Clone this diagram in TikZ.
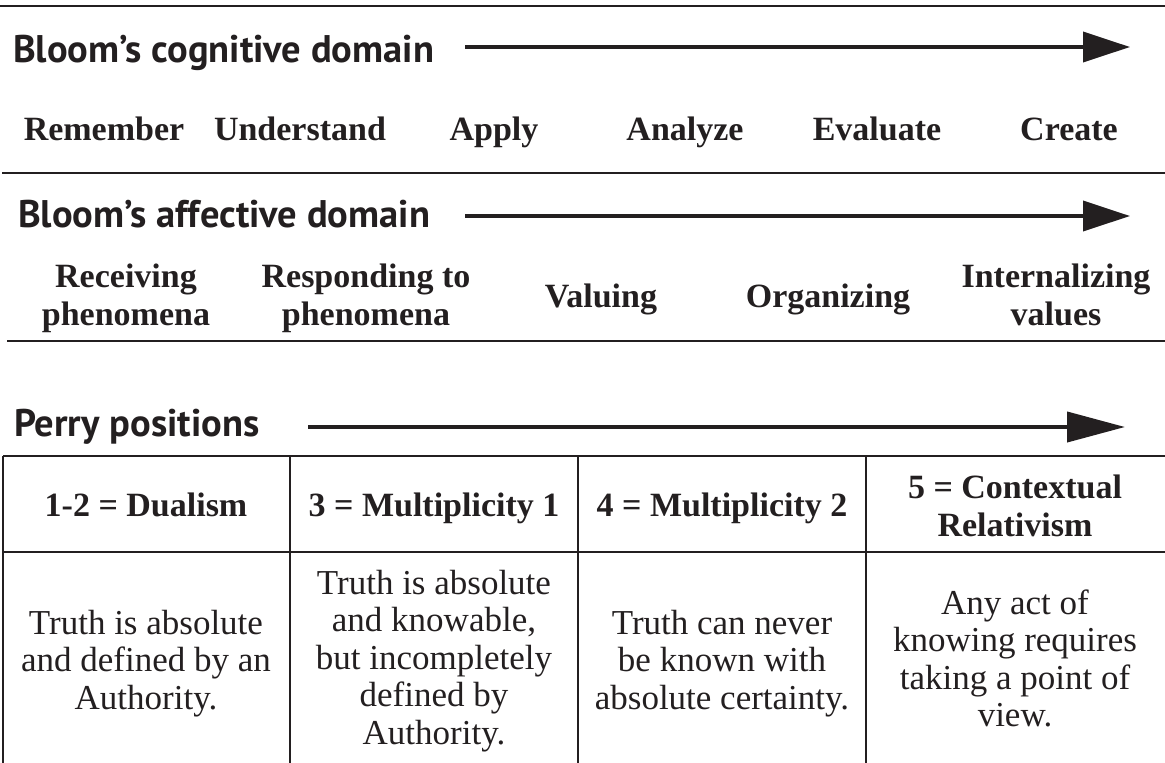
\documentclass[tikz,border=0pt]{standalone}
\usepackage{fontspec}
\setmainfont{Liberation Serif}
\newfontfamily\titlefont{PT Sans}
\usetikzlibrary{arrows.meta}
\definecolor{ink}{HTML}{231F20}
\begin{document}
\begin{tikzpicture}[x=1pt,y=-1pt,
  rule/.style={line width=2.6pt, draw=ink},
  gridline/.style={line width=2pt, draw=ink},
  arrowline/.style={line width=4pt, draw=ink, -{Triangle[length=47pt,width=30pt]}},
  title/.style={anchor=base west, inner sep=0pt, text=ink, font=\titlefont\bfseries\fontsize{38.5}{42}\selectfont},
  level/.style={anchor=base, inner sep=0pt, text=ink, font=\bfseries\fontsize{34}{38}\selectfont},
  levelml/.style={level, text width=240pt, align=flush center},
  body/.style={anchor=base, inner sep=0pt, text=ink, font=\fontsize{35}{37.5}\selectfont, text width=280pt, align=flush center},
]
\useasboundingbox (0,0) rectangle (1165,763);

% horizontal rules
\coordinate (r1a) at (0,6);   \coordinate (r1b) at (1165,6);
\coordinate (r2a) at (2,173); \coordinate (r2b) at (1165,173);
\coordinate (r3a) at (7,341); \coordinate (r3b) at (1165,341);
\draw[rule] (r1a) -- (r1b);
\draw[rule] (r2a) -- (r2b);
\draw[rule] (r3a) -- (r3b);

% cognitive domain
\node[title] (t1) at (13,62) {Bloom’s cognitive domain};
\coordinate (a1s) at (465,47); \coordinate (a1e) at (1130,47);
\draw[arrowline] (a1s) -- (a1e);
\node[level] (c1) at (104,140) {Remember};
\node[level] (c2) at (300,140) {Understand};
\node[level] (c3) at (494,140) {Apply};
\node[level] (c4) at (685,140) {Analyze};
\node[level] (c5) at (877,140) {Evaluate};
\node[level] (c6) at (1069,140) {Create};

% affective domain
\node[title] (t2) at (18,227) {Bloom’s affective domain};
\coordinate (a2s) at (465,216); \coordinate (a2e) at (1130,216);
\draw[arrowline] (a2s) -- (a2e);
\node[levelml] (e1) at (126,287) {Receiving\\phenomena};
\node[levelml] (e2) at (366,287) {Responding to\\phenomena};
\node[level] (e3) at (601,307) {Valuing};
\node[level] (e4) at (828,307) {Organizing};
\node[levelml] (e5) at (1056,287) {Internalizing\\values};

% Perry positions
\node[title] (t3) at (14,436) {Perry positions};
\coordinate (a3s) at (308,427); \coordinate (a3e) at (1125,427);
\draw[line width=4pt, draw=ink, -{Triangle[length=58pt,width=30pt]}] (a3s) -- (a3e);

% table
\coordinate (tl) at (3,456);  \coordinate (tr) at (1165,456);
\coordinate (ml) at (3,552);  \coordinate (mr) at (1165,552);
\draw[gridline] (tl) -- (tr);
\draw[gridline] (ml) -- (mr);
\foreach \x/\n in {3/v0,290/v1,578/v2,866/v3}{
  \coordinate (\n t) at (\x,456); \coordinate (\n b) at (\x,763);
  \draw[gridline] (\n t) -- (\n b);
}

\node[level] (h1) at (146,516) {1-2 = Dualism};
\node[level] (h2) at (434,516) {3 = Multiplicity 1};
\node[level] (h3) at (722,516) {4 = Multiplicity 2};
\node[levelml] (h4) at (1015,498) {5 = Contextual\\Relativism};

\node[body] (b1) at (146,634) {Truth is absolute\\and defined by an\\Authority.};
\node[body] (b2) at (434,594) {Truth is absolute\\and knowable,\\but incompletely\\defined by\\Authority.};
\node[body] (b3) at (722,634) {Truth can never\\be known with\\absolute certainty.};
\node[body] (b4) at (1015,614) {Any act of\\knowing requires\\taking a point of\\view.};
\end{tikzpicture}
\end{document}
